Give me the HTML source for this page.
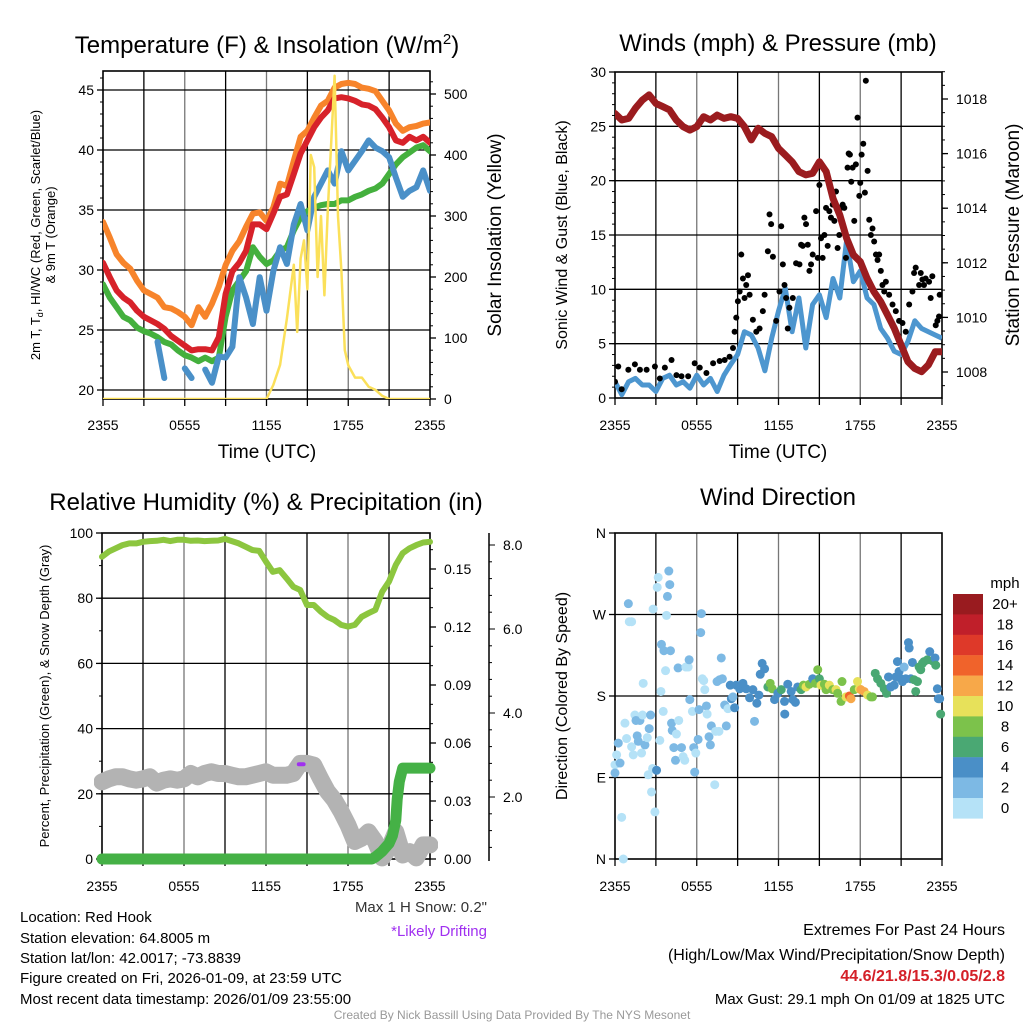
<!DOCTYPE html>
<html><head><meta charset="utf-8"><style>
body{margin:0;background:#fff}
svg{display:block;font-family:"Liberation Sans",sans-serif}
</style></head><body>
<svg id="s" width="1024" height="1024" viewBox="0 0 1024 1024" xmlns="http://www.w3.org/2000/svg">
<rect width="1024" height="1024" fill="#fff"/>
<g font-size="24" text-anchor="middle" fill="#000">
<text x="267" y="53">Temperature (F) &amp; Insolation (W/m<tspan dy="-9" font-size="15">2</tspan><tspan dy="9">)</tspan></text>
<text x="778" y="51">Winds (mph) &amp; Pressure (mb)</text>
<text x="266" y="510">Relative Humidity (%) &amp; Precipitation (in)</text>
<text x="778" y="505">Wind Direction</text>
</g>
<g font-size="19" text-anchor="middle">
<text x="267" y="458">Time (UTC)</text>
<text x="778" y="458">Time (UTC)</text>
<text transform="translate(501,235) rotate(-90)">Solar Insolation (Yellow)</text>
<text transform="translate(1019,235) rotate(-90)">Station Pressure (Maroon)</text>
</g>
<g font-size="13" text-anchor="middle">
<text transform="translate(40,235) rotate(-90)">2m T, T<tspan dy="3" font-size="9">d</tspan><tspan dy="-3">, HI/WC (Red, Green, Scarlet/Blue)</tspan></text>
<text transform="translate(55,235) rotate(-90)">&amp; 9m T (Orange)</text>
<text transform="translate(49,696) rotate(-90)">Percent, Precipitation (Green), &amp; Snow Depth (Gray)</text>
</g>
<g font-size="16" text-anchor="middle">
<text transform="translate(567,235) rotate(-90)">Sonic Wind &amp; Gust (Blue, Black)</text>
<text transform="translate(567,696) rotate(-90)">Direction (Colored By Speed)</text>
</g>
<g font-size="15">
<text x="20" y="922">Location: Red Hook</text>
<text x="20" y="943">Station elevation: 64.8005 m</text>
<text x="20" y="963">Station lat/lon: 42.0017; -73.8839</text>
<text x="20" y="983">Figure created on Fri, 2026-01-09, at 23:59 UTC</text>
<text x="20" y="1004">Most recent data timestamp: 2026/01/09 23:55:00</text>
<text x="487" y="912" text-anchor="end" fill="#333">Max 1 H Snow: 0.2"</text>
<text x="487" y="936" text-anchor="end" fill="#a030f0">*Likely Drifting</text>
<text x="1005" y="935" text-anchor="end" font-size="16">Extremes For Past 24 Hours</text>
<text x="1005" y="960" text-anchor="end" font-size="16">(High/Low/Max Wind/Precipitation/Snow Depth)</text>
<text x="1005" y="981" text-anchor="end" font-size="16" font-weight="bold" fill="#d42028">44.6/21.8/15.3/0.05/2.8</text>
<text x="1005" y="1004" text-anchor="end">Max Gust: 29.1 mph On 01/09 at 1825 UTC</text>
<text x="512" y="1019" text-anchor="middle" font-size="12" fill="#999">Created By Nick Bassill Using Data Provided By The NYS Mesonet</text>
</g>
<text x="1005" y="588" text-anchor="middle" font-size="15">mph</text>
</svg>
<script>
// ---------- data ----------
const halfHours = [0,0.5,1,1.5,2,2.5,3,3.5,4,4.5,5,5.5,6,6.5,7,7.5,8,8.5,9,9.5,10,10.5,11,11.5,12,12.5,13,13.5,14,14.5,15,15.5,16,16.5,17,17.5,18,18.5,19,19.5,20,20.5,21,21.5,22,22.5,23,23.5,24];
const temp9m = [34.0,32.7,31.3,30.6,30.1,29.1,28.3,28.0,27.7,26.9,26.8,26.5,26.1,25.4,26.9,26.1,27.2,28.6,30.4,31.6,32.4,33.6,34.7,34.8,34.1,35.2,37.2,37.0,39.1,41.1,41.6,42.7,43.7,44.1,45.2,45.5,45.6,45.5,45.2,45.1,44.9,44.1,43.3,42.2,41.6,41.9,42.0,42.2,42.3];
const temp2m = [30.6,29.4,28.3,27.7,27.3,26.6,26.1,25.8,25.5,25.1,24.5,24.1,23.7,23.3,23.4,23.4,23.3,24.4,28.0,29.9,30.6,31.6,33.8,33.8,33.4,34.7,36.1,36.3,38.0,39.7,40.8,41.9,42.7,43.3,44.3,44.4,44.3,44.1,43.8,43.7,43.4,42.7,41.9,40.8,40.6,41.1,40.8,41.1,40.6];
const dewpoint = [28.8,27.7,26.9,26.1,25.8,25.2,24.9,24.7,24.4,24.0,23.8,23.3,22.9,22.7,22.4,22.7,22.4,22.7,26.1,28.3,29.1,29.9,31.9,31.1,30.5,30.8,31.6,31.9,33.3,34.4,34.9,35.2,35.4,35.5,35.5,35.8,35.8,36.1,36.3,36.6,36.8,37.2,38.0,38.8,39.4,39.8,40.2,40.4,39.9];
const windChill = [null,null,null,24.4,null,null,null,null,24.0,21.0,null,null,21.8,21.0,null,21.7,20.6,22.8,22.7,23.6,29.4,27.7,25.5,29.4,26.6,29.9,31.9,30.5,33.8,35.5,33.3,36.1,37.2,38.3,37.2,39.9,38.3,39.1,39.9,40.8,40.2,39.9,39.4,37.7,36.1,36.6,36.9,38.3,36.6];
const solarHours = [0,12,12.5,13,13.5,14,14.25,14.5,14.75,15,15.25,15.5,15.75,16,16.25,16.5,16.75,17,17.25,17.5,17.75,18,18.5,19,19.5,20,20.5,21,24];
const solarValues = [0,0,23,56,132,220,110,230,260,180,400,380,200,300,170,310,420,530,300,210,80,55,35,35,20,15,5,0,0];
const pressure = [1017.47,1017.23,1017.29,1017.66,1017.96,1018.15,1017.84,1017.72,1017.6,1017.23,1016.99,1016.86,1016.99,1017.35,1017.23,1017.41,1017.29,1017.35,1017.29,1016.99,1016.5,1016.93,1016.74,1016.62,1016.19,1015.95,1015.7,1015.34,1015.22,1015.28,1015.7,1015.34,1014.36,1013.75,1012.9,1012.29,1012.04,1011.43,1010.94,1010.58,1010.09,1009.6,1008.99,1008.38,1008.13,1008.01,1008.26,1008.74,1008.74];
const windSpeed = [1.5,0.3,1.5,1.8,1.2,1.2,0.6,1.8,2.1,1.2,1.5,0.9,2.1,1.2,1.8,0.6,2.1,3.1,4.0,6.1,5.8,4.6,2.5,5.5,8.0,10.1,6.1,9.2,4.6,8.6,9.5,7.4,11.0,9.2,14.5,10.7,11.7,9.2,8.6,6.4,5.5,4.3,4.0,5.2,7.1,6.4,6.1,5.8,5.5];
const gustHours = [0,0.24,0.49,0.98,1.46,1.83,2.32,2.93,3.29,3.66,4.15,4.51,4.88,5.37,5.85,6.22,6.71,7.2,7.68,8.05,8.41,8.66,8.78,8.9,9.02,9.15,9.27,9.39,9.51,9.63,9.76,9.88,10.12,10.37,10.61,10.85,10.98,11.22,11.34,11.46,11.59,11.83,12.07,12.2,12.32,12.44,12.56,12.68,12.8,13.05,13.29,13.54,13.66,13.78,13.9,14.02,14.15,14.27,14.39,14.51,14.76,14.88,15.0,15.12,15.24,15.37,15.49,15.61,15.73,15.85,15.98,16.1,16.22,16.34,16.46,16.59,16.71,16.83,16.95,17.07,17.15,17.24,17.34,17.44,17.56,17.68,17.8,17.93,18.0,18.1,18.22,18.34,18.41,18.54,18.66,18.78,18.9,19.02,19.15,19.27,19.39,19.51,19.63,19.76,19.88,20.12,20.37,20.61,20.85,21.1,21.34,21.59,21.83,21.95,22.07,22.32,22.44,22.56,22.68,22.8,23.05,23.17,23.29,23.54,23.66,23.78,23.83];
const gustValues = [1.5,2.9,0.8,2.6,3.1,2.6,2.6,2.9,1.8,2.8,3.5,2.1,2.0,2.0,3.2,2.8,2.3,3.2,3.4,3.5,3.8,4.6,6.1,7.4,8.9,9.8,13.2,11.0,9.2,10.4,11.3,9.5,7.2,6.1,6.4,8.0,9.5,13.5,16.9,16.0,13.0,7.1,9.8,15.8,12.3,10.4,9.2,6.4,8.3,9.2,12.4,12.3,14.1,14.0,16.6,16.0,14.1,11.7,12.3,13.2,17.2,12.9,19.6,14.7,12.9,15.0,17.5,14.0,17.2,16.6,17.8,16.3,19.0,13.8,15.0,17.5,17.8,17.5,12.9,21.2,22.5,22.4,19.9,21.2,16.3,21.5,25.8,18.6,19.8,22.4,23.4,18.9,29.2,20.9,16.4,15.0,15.6,14.4,13.2,12.7,13.2,11.7,10.4,9.8,10.7,9.5,8.6,8.0,7.1,6.9,6.1,8.6,9.8,11.5,12.0,10.4,11.5,10.9,10.4,11.0,10.7,9.2,11.2,6.7,7.1,7.5,9.5];
const humidity = [92.7,94.3,95.3,96.3,96.8,96.8,97.3,97.5,97.6,97.9,97.5,97.9,97.9,97.6,97.7,97.5,97.6,97.7,98.2,97.5,96.8,95.8,94.8,94.5,91.2,88.1,88.6,86.1,83.5,82.5,77.9,77.9,75.9,74.3,73.3,71.8,71.3,71.8,74.3,75.4,76.4,82.0,85.1,90.2,93.8,95.3,96.3,97.1,97.3];
const snowDepth = [2.36,2.43,2.48,2.48,2.43,2.40,2.43,2.48,2.33,2.40,2.43,2.40,2.43,2.56,2.48,2.56,2.6,2.56,2.56,2.52,2.48,2.48,2.52,2.56,2.6,2.52,2.52,2.52,2.56,2.8,2.8,2.76,2.43,2.13,1.93,1.65,1.33,0.94,1.02,1.17,0.94,0.55,0.78,1.17,0.62,0.7,0.55,0.86,0.86];
const drift = [[14.4,2.78],[14.75,2.78]];
const precipHours = [0,19.75,20,20.5,21,21.25,21.5,21.6,21.75,22,24];
const precipValues = [0,0,0.001,0.004,0.008,0.012,0.02,0.031,0.04,0.047,0.047];
const dirHours = [0,0,0.12,0.24,0.37,0.49,0.61,0.73,0.85,0.98,1.05,1.22,1.22,1.34,1.46,1.54,1.63,1.71,1.83,1.95,2.02,2.07,2.2,2.37,2.44,2.51,2.61,2.68,2.76,2.8,2.93,3.05,3.1,3.17,3.29,3.37,3.41,3.54,3.59,3.71,3.78,3.85,3.95,4.02,4.07,4.15,4.2,4.32,4.44,4.51,4.63,4.68,4.88,5.0,5.12,5.2,5.37,5.44,5.49,5.68,5.78,5.85,5.93,6.1,6.17,6.29,6.34,6.41,6.51,6.59,6.71,6.76,6.9,7.0,7.07,7.32,7.39,7.49,7.63,7.68,7.8,7.88,8.05,8.17,8.29,8.46,8.54,8.66,8.78,8.9,9.15,9.39,9.63,9.88,10.12,10.24,10.41,10.56,10.66,10.8,10.98,11.22,11.39,11.54,11.71,11.95,12.2,12.44,12.46,12.68,12.93,13.05,13.24,13.41,13.66,13.83,14.02,14.27,14.51,14.71,14.88,15.0,15.12,15.37,15.49,15.73,15.98,16.22,16.34,16.59,16.66,16.95,17.2,17.32,17.56,17.8,17.93,18.05,18.29,18.54,18.78,18.9,19.1,19.27,19.51,19.76,19.93,20.07,20.24,20.49,20.61,20.73,20.85,20.98,21.1,21.22,21.34,21.54,21.59,21.71,21.83,21.95,22.07,22.2,22.32,22.44,22.56,22.68,22.93,23.1,23.29,23.49,23.54,23.66,23.73,23.83,23.9];
const dirDegrees = [104,95,115,128,106,46,0,150,133,282,262,262,124,115,159,153,136,130,153,117,159,194,126,134,93,144,159,74,100,276,52,98,300,311,131,185,237,163,230,208,269,290,318,303,230,150,142,123,109,138,211,153,123,113,109,212,212,220,176,163,123,96,117,132,165,250,271,199,197,187,169,160,135,126,147,82,141,196,141,198,222,199,170,147,166,192,177,179,167,192,188,194,188,178,187,152,172,181,204,216,210,190,194,188,176,183,187,174,160,193,185,176,173,190,187,192,190,193,199,194,209,199,192,193,187,192,187,187,183,174,196,179,180,177,187,196,188,187,185,181,179,179,205,199,194,188,183,201,190,192,201,218,207,199,196,212,199,239,233,199,217,198,185,196,212,209,216,218,220,229,219,222,214,188,177,177,160];
const dirSpeeds = [1,3,1,3,3,0.5,1,1,1,3,1,1,1,1,1,3,3,3,3,1,1,1,3,1,1,3,3,1,1,1,1,4,1,1,1,1,3,1,3,1,1,3,3,3,3,3,3,3,3,1,3,1,3,1,1,1,1,3,3,1,3,3,1,3,3,3,3,1,1,1,3,1,3,3,3,1,1,3,1,3,3,3,3,3,1,4,4,3,4,4,5,5,5,5,4,3,4,4,4,4,5,7,9,8,4,5,7,5,5,4,5,4,5,5,7,9,10,9,5,9,8,7,10,9,8,10,8,10,9,8,8,10,14,13,9,10,11,12,12,10,9,8,6,6,6,6,6,5,5,4,4,5,4,5,5,3,5,4,4,4,4,6,6,6,6,6,6,6,6,4,6,4,6,4,4,4,6];
const xTickLabels = ["2355","0555","1155","1755","2355"];
const tempTicks = [20,25,30,35,40,45];
const solarTicks = [0,100,200,300,400,500];
const windTicks = [0,5,10,15,20,25,30];
const pressTicks = [1008,1010,1012,1014,1016,1018];
const rhTicks = [0,20,40,60,80,100];
const precipTicks = ["0.00","0.03","0.06","0.09","0.12","0.15"];
const snowTicks = ["2.0","4.0","6.0","8.0"];
const dirTicks = [0,90,180,270,360];
const dirLabels = ["N","E","S","W","N"];
const speedLabels = ["0","2","4","6","8","10","12","14","16","18","20+"];
const speedColors = ["#b5e2f7","#7db9e4","#4a8fc7","#4aa873","#7cc24b","#e7e15a","#f7a849","#f0632b","#de3929","#c01f2a","#991b1f"];

// ---------- helpers ----------
const NS="http://www.w3.org/2000/svg";
const svg=document.getElementById('s');
function mk(tag,attrs,parent){const e=document.createElementNS(NS,tag);for(const k in attrs)e.setAttribute(k,attrs[k]);(parent||svg).appendChild(e);return e;}
function linear(d0,d1,r0,r1){return v=>r0+(v-d0)*(r1-r0)/(d1-d0);}
function pathFrom(xs,ys,xf,yf){let d="",pen=false;for(let i=0;i<xs.length;i++){if(ys[i]==null){pen=false;continue;}d+=(pen?"L":"M")+xf(xs[i]).toFixed(1)+","+yf(ys[i]).toFixed(1);pen=true;}return d;}

const P=[{x0:103,x1:430,y0:71,y1:399,ty:430},{x0:615,x1:942,y0:72,y1:398,ty:430},{x0:102,x1:430,y0:533,y1:859,ty:891},{x0:615,x1:942,y0:533,y1:859,ty:891}];
function frame(p,i,hVals,yf){
  const g=mk('g',{});
  
  
  const xf=linear(0,24,p.x0,p.x1);
  for(let h=3;h<24;h+=3){const l=mk('line',{x1:xf(h),x2:xf(h),y1:p.y0,y2:p.y1,stroke:(h%6?'#000':'#777'),'stroke-width':1.3},g);
    
    }
  hVals.forEach(v=>{const y=yf(v);if(y>p.y0+1&&y<p.y1-1){const l=mk('line',{x1:p.x0,x2:p.x1,y1:y,y2:y,stroke:'#000','stroke-width':1.3},g);
    
    }});
  const r=mk('rect',{x:p.x0,y:p.y0,width:p.x1-p.x0,height:p.y1-p.y0,fill:'none',stroke:'#000','stroke-width':1.6},g);
  
  
  for(let h=0;h<=24;h+=3){mk('line',{x1:xf(h),x2:xf(h),y1:p.y1,y2:p.y1+7,stroke:'#000','stroke-width':1.3},g);}
  xTickLabels.forEach((t,k)=>{const x=xf(k*6);
    const tx=mk('text',{x:x,y:p.ty,'font-size':14,'text-anchor':'middle'},g);tx.textContent=t;
    
    });
  return xf;
}
function yTicks(vals,labels,yf,x,side,g,minors){
  vals.forEach((v,k)=>{const y=yf(v);
    mk('line',{x1:x,x2:x+side*6,y1:y,y2:y,stroke:'#000','stroke-width':1.3},g);
    const t=mk('text',{x:x+side*(side<0?9:14),y:y+5,'font-size':14,'text-anchor':side<0?'end':'start'},g);t.textContent=labels[k];
    
    });
  (minors||[]).forEach(v=>{const y=yf(v);mk('line',{x1:x,x2:x+side*3,y1:y,y2:y,stroke:'#000'},g);});
}
function range(a,b,s){const r=[];for(let v=a;v<=b+1e-9;v+=s)r.push(+v.toFixed(4));return r;}
function clip(id,p){const c=mk('clipPath',{id:id});mk('rect',{x:p.x0,y:p.y0,width:p.x1-p.x0,height:p.y1-p.y0},c);}

// ---------- Panel 1 ----------
{const p=P[0];const yT=linear(19.25,45,399,90);const yS=linear(0,500,399,94);
 const xf=frame(p,0,tempTicks,yT);clip('c1',p);
 const g=mk('g',{'clip-path':'url(#c1)'});
 
 
 const ax=mk('g',{});
 
 
 yTicks(tempTicks,tempTicks.map(String),yT,p.x0,-1,ax,range(20,46,1));
 yTicks(solarTicks,solarTicks.map(String),yS,p.x1,1,ax,range(0,520,20));
 const series=[[temp9m,'#f7842b','line-9m-temp'],[dewpoint,'#44b03d','line-dewpoint'],[windChill,'#4a90c8','line-wind-chill'],[temp2m,'#d7222a','line-2m-temp']];
 series.forEach(s=>{const l=mk('path',{d:pathFrom(halfHours,s[0],xf,yT),fill:'none',stroke:s[1],'stroke-width':6,'stroke-linejoin':'round','stroke-linecap':'round'},g);
   
   });
 const sl=mk('path',{d:pathFrom(solarHours,solarValues,xf,yS),fill:'none',stroke:'#fbe05a','stroke-width':2.5,'stroke-linejoin':'round'},g);
 
 
}
// ---------- Panel 2 ----------
{const p=P[1];const yW=linear(0,30,398,72);const yP=linear(1008,1018,372,99);
 const xf=frame(p,1,windTicks,yW);clip('c2',p);
 const ax=mk('g',{});
 
 
 yTicks(windTicks,windTicks.map(String),yW,p.x0,-1,ax,range(0,30,1));
 yTicks(pressTicks,pressTicks.map(String),yP,p.x1,1,ax,range(1007.5,1019,0.5));
 const g=mk('g',{'clip-path':'url(#c2)'});
 
 
 const wl=mk('path',{d:pathFrom(halfHours,windSpeed,xf,yW),fill:'none',stroke:'#4d96cf','stroke-width':5,'stroke-linejoin':'round'},g);
 
 
 gustHours.forEach((h,i)=>{const c=mk('circle',{cx:xf(h),cy:yW(gustValues[i]),r:3,fill:'#000'},g);
   
   });
 const pl=mk('path',{d:pathFrom(halfHours,pressure,xf,yP),fill:'none',stroke:'#9b1c1f','stroke-width':7,'stroke-linejoin':'round','stroke-linecap':'round'},g);
 
 
}
// ---------- Panel 3 ----------
{const p=P[2];const yR=linear(0,100,859,533);const yPr=linear(0,0.15,859,569);const ySn=linear(0,8,881,545);
 const xf=frame(p,2,rhTicks,yR);clip('c3',{x0:p.x0-8,x1:p.x1+8,y0:p.y0,y1:p.y1+8});
 const ax=mk('g',{});
 
 
 yTicks(rhTicks,rhTicks.map(String),yR,p.x0,-1,ax,range(0,100,10));
 yTicks(precipTicks.map(Number),precipTicks,yPr,p.x1,1,ax,range(0,0.165,0.01));
 const sa=mk('line',{x1:489,x2:489,y1:533,y2:861,stroke:'#000','stroke-width':1.5},ax);
 
 
 snowTicks.forEach(t=>{const y=ySn(+t);mk('line',{x1:489,x2:495,y1:y,y2:y,stroke:'#000'},ax);
   const tx=mk('text',{x:503,y:y+5,'font-size':14},ax);tx.textContent=t;
   
   });
 range(0.8,8.4,0.4).forEach(v=>{const y=ySn(v);if(y>533&&y<861)mk('line',{x1:489,x2:492,y1:y,y2:y,stroke:'#000'},ax);});
 const g=mk('g',{'clip-path':'url(#c3)'});
 
 
 const sn=mk('path',{d:pathFrom(halfHours,snowDepth,xf,ySn),fill:'none',stroke:'#b3b3b3','stroke-width':17,'stroke-linejoin':'round','stroke-linecap':'round'},g);
 
 
 const dr=mk('path',{d:pathFrom(drift.map(d=>d[0]),drift.map(d=>d[1]),xf,ySn),fill:'none',stroke:'#a030f0','stroke-width':4,'stroke-linecap':'round'},g);
 
 
 const pr=mk('path',{d:pathFrom(precipHours,precipValues,xf,yPr),fill:'none',stroke:'#45b146','stroke-width':11,'stroke-linejoin':'round','stroke-linecap':'round'},g);
 
 
 const rh=mk('path',{d:pathFrom(halfHours,humidity,xf,yR),fill:'none',stroke:'#8cc63f','stroke-width':6,'stroke-linejoin':'round','stroke-linecap':'round'},g);
 
 
}
// ---------- Panel 4 ----------
{const p=P[3];const yD=linear(0,360,859,533);
 const xf=frame(p,3,[90,180,270],yD);
 const ax=mk('g',{});
 
 
 yTicks(dirTicks,dirLabels,yD,p.x0,-1,ax,[]);
 const g=mk('g',{});
 
 
 dirHours.forEach((h,i)=>{const ci=Math.min(10,Math.floor(dirSpeeds[i]/2));
   const c=mk('circle',{cx:xf(h),cy:yD(dirDegrees[i]),r:4.5,fill:speedColors[ci]},g);
   
   });
 const cb=mk('g',{});
 
 
 speedLabels.forEach((lab,k)=>{const idx=10-k;const y=594+k*20.4;
   const r=mk('rect',{x:953,y:y,width:30,height:20.6,fill:speedColors[idx]},cb);
   
   
   const t=mk('text',{x:1005,y:y+15,'font-size':15,'text-anchor':'middle'},cb);t.textContent=speedLabels[idx];
   
   });
}
</script>
</body></html>
